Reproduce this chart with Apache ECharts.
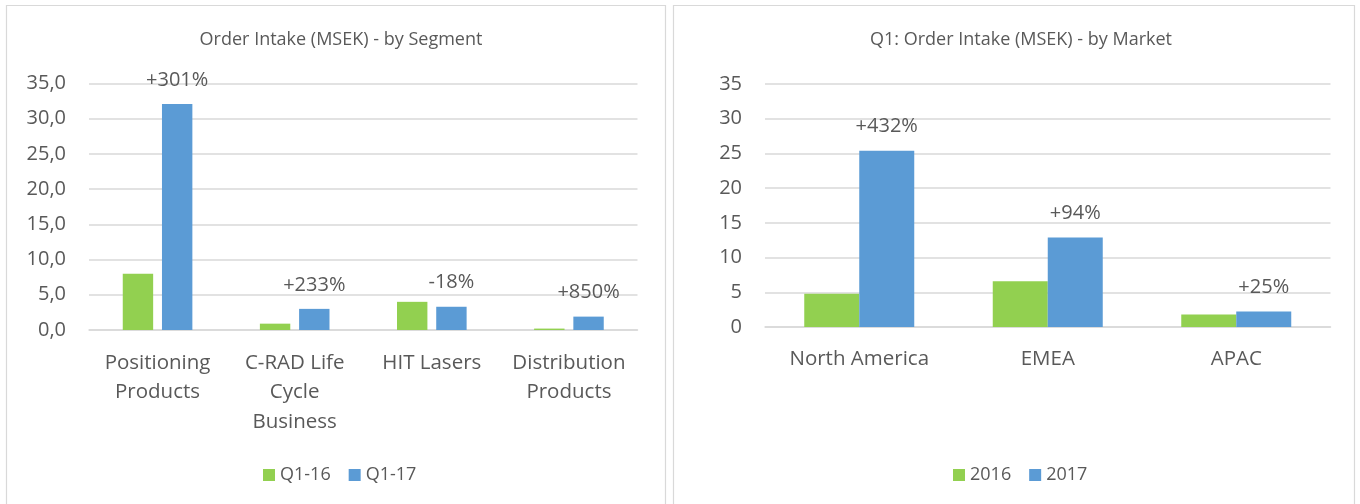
<!DOCTYPE html>
<html>
<head>
<meta charset="utf-8">
<script src="https://cdn.jsdelivr.net/npm/echarts@6/dist/echarts.min.js"></script>
<style>
  html, body { margin: 0; padding: 0; background: #fff; }
  #chart { width: 1360px; height: 504px; }
</style>
</head>
<body>
<div id="chart"></div>
<script>
// left chart: by segment
var segments = ['Positioning\nProducts', 'C-RAD Life\nCycle\nBusiness', 'HIT Lasers', 'Distribution\nProducts'];
var segQ116 = [8.0, 0.9, 4.0, 0.2];
var segQ117 = [32.1, 3.0, 3.3, 1.9];
var segChange = ['+301%', '+233%', '-18%', '+850%'];

// right chart: by market
var markets = ['North America', 'EMEA', 'APAC'];
var mkt2016 = [4.8, 6.6, 1.8];
var mkt2017 = [25.4, 12.9, 2.25];
var mktChange = ['+432%', '+94%', '+25%'];

var green = '#92d050', blue = '#5b9bd5';
var txt = '#595959', gridCol = '#d9d9d9';
var font = 'Open Sans';

var chart = echarts.init(document.getElementById('chart'));

function yAxis(idx, fmt) {
    return {
        type: 'value', gridIndex: idx, min: 0, max: 35, interval: 5,
        axisLine: {show: false}, axisTick: {show: false},
        splitLine: {lineStyle: {color: gridCol, width: 1.5}},
        axisLabel: {color: txt, fontSize: 20, fontFamily: font, margin: 23, formatter: fmt}
    };
}
function xAxis(idx, data, margin) {
    return {
        type: 'category', gridIndex: idx, data: data,
        axisLine: {lineStyle: {color: gridCol, width: 1.5}},
        axisTick: {show: false},
        axisLabel: {color: txt, fontSize: 20.5, fontFamily: font, margin: margin, lineHeight: 29.5, interval: 0}
    };
}
function pctLabel(arr) {
    return {
        show: true, position: 'top', distance: 14,
        color: txt, fontSize: 20, fontFamily: font,
        formatter: function (p) { return arr[p.dataIndex]; }
    };
}

var option = {
    animation: false,
    graphic: [
        {type: 'rect', shape: {x: 6.5, y: 5.5, width: 659, height: 520}, style: {fill: 'none', stroke: gridCol, lineWidth: 1.2}},
        {type: 'rect', shape: {x: 673.5, y: 5.5, width: 681, height: 520}, style: {fill: 'none', stroke: gridCol, lineWidth: 1.2}}
    ],
    title: [
        {text: 'Order Intake (MSEK) - by Segment', left: 336, top: 26, textAlign: 'center',
            textStyle: {color: txt, fontSize: 18, fontWeight: 'normal', fontFamily: font}},
        {text: 'Q1: Order Intake (MSEK) - by Market', left: 1016, top: 26, textAlign: 'center',
            textStyle: {color: txt, fontSize: 18, fontWeight: 'normal', fontFamily: font}}
    ],
    legend: [
        {data: ['Q1-16', 'Q1-17'], left: 258, top: 461, itemWidth: 12, itemHeight: 12, itemGap: 18,
            icon: 'rect', textStyle: {color: txt, fontSize: 18, fontFamily: font}},
        {data: ['2016', '2017'], left: 948, top: 461, itemWidth: 12, itemHeight: 12, itemGap: 18,
            icon: 'rect', textStyle: {color: txt, fontSize: 18, fontFamily: font}}
    ],
    grid: [
        {left: 89, top: 83.5, width: 548.5, height: 246.5},
        {left: 765, top: 84, width: 565.5, height: 243}
    ],
    xAxis: [xAxis(0, segments, 18), xAxis(1, markets, 17.5)],
    yAxis: [
        yAxis(0, function (v) { return v.toFixed(1).replace('.', ','); }),
        yAxis(1, function (v) { return String(v); })
    ],
    series: [
        {name: 'Q1-16', type: 'bar', xAxisIndex: 0, yAxisIndex: 0, data: segQ116,
            barWidth: 30.4, barGap: '29%', itemStyle: {color: green}},
        {name: 'Q1-17', type: 'bar', xAxisIndex: 0, yAxisIndex: 0, data: segQ117,
            barWidth: 30.4, barGap: '29%', itemStyle: {color: blue}, label: pctLabel(segChange)},
        {name: '2016', type: 'bar', xAxisIndex: 1, yAxisIndex: 1, data: mkt2016,
            barWidth: 55, barGap: '0%', itemStyle: {color: green}},
        {name: '2017', type: 'bar', xAxisIndex: 1, yAxisIndex: 1, data: mkt2017,
            barWidth: 55, barGap: '0%', itemStyle: {color: blue}, label: pctLabel(mktChange)}
    ]
};

chart.setOption(option);
</script>
</body>
</html>
